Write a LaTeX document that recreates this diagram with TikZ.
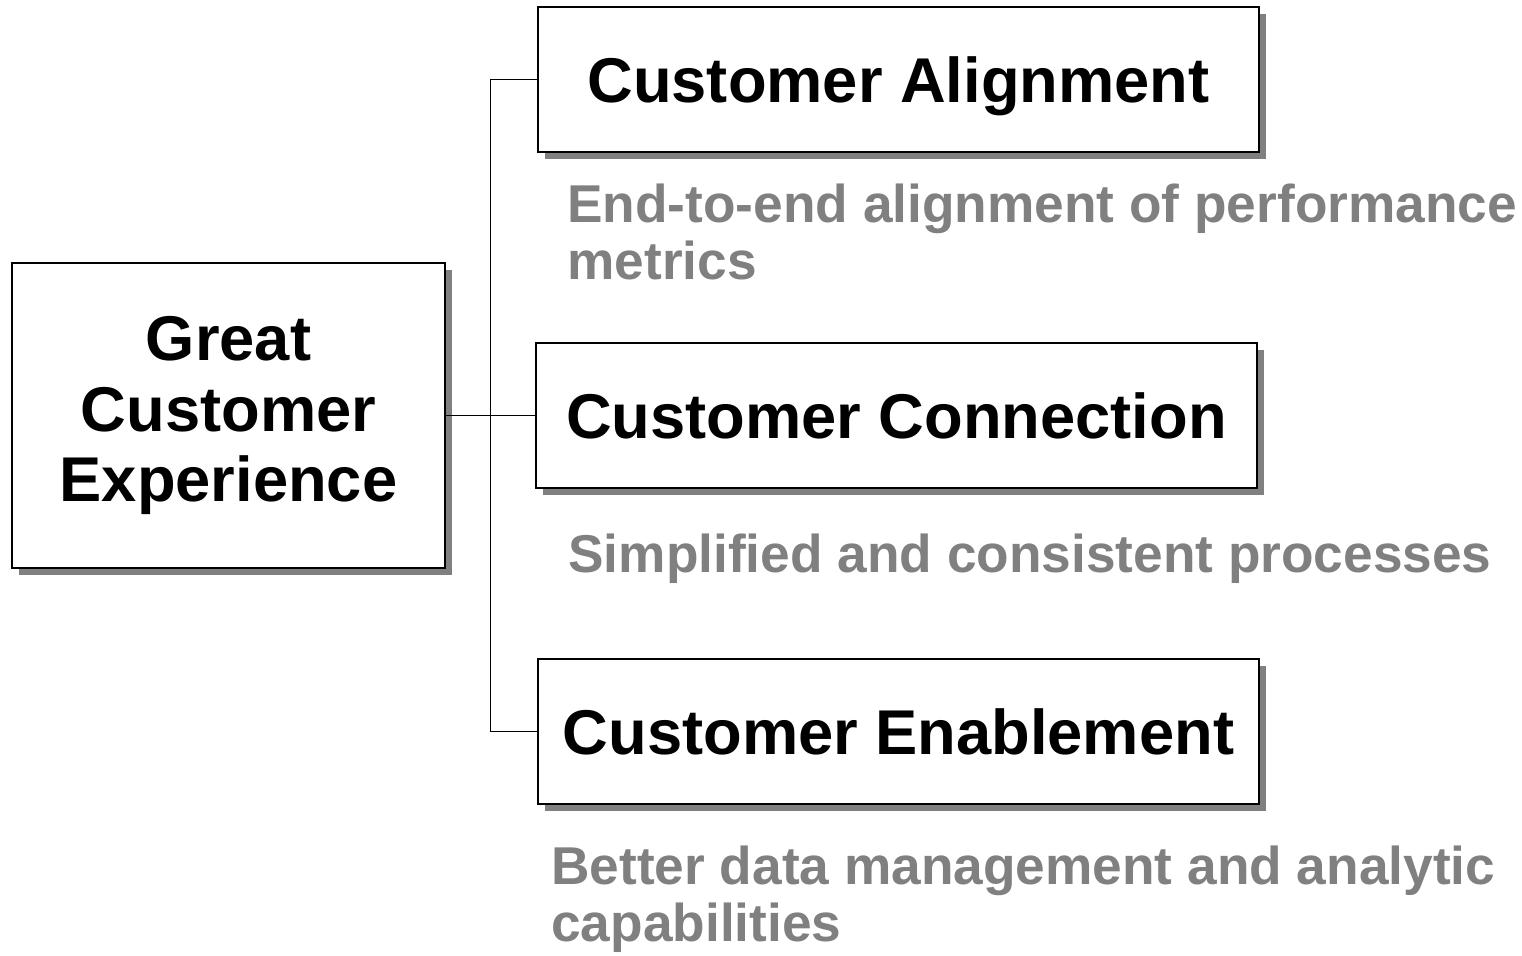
\documentclass[tikz,border=0pt]{standalone}
\usepackage{fontspec}
\setmainfont{Liberation Sans}
\usetikzlibrary{positioning, calc}
\usetikzlibrary{shadows}
\definecolor{notegray}{HTML}{808080}
\tikzset{
  font={\fontsize{36pt}{40pt}\selectfont\bfseries}}
\tikzset{
  pillar/.style={draw=black, line width=1.1pt, fill=white,
    drop shadow={shadow xshift=0.14cm, shadow yshift=-0.14cm, fill=notegray, opacity=1}},
  branch/.style={pillar, minimum width=14.42cm, minimum height=2.9cm, text depth=0pt},
  note/.style={text=notegray, font={\fontsize{30.3pt}{32pt}\selectfont\bfseries},
    align=left, inner sep=0pt, anchor=base west},
  link/.style={line width=1.1pt}
}

\begin{document}
\begin{tikzpicture}
     \useasboundingbox (0,0) rectangle (30.44,-19.10);

     \node[pillar, minimum width=8.66cm, minimum height=6.1cm, align=center] (goal) at (4.57,-8.31) {Great\\Customer\\Experience};
     \node[branch] (align) at (17.97,-1.59) {Customer Alignment};
     \node[branch] (connect) at (17.93,-8.31) {Customer Connection};
     \node[branch] (enable) at (17.97,-14.63) {Customer Enablement};

     %% notes under the boxes (base = last line)
     \node[note] (alignnote) at (11.34,-5.58) {End-to-end alignment of performance\\metrics};
     \node[note] (connectnote) at (11.36,-11.44) {Simplified and consistent processes};
     \node[note] (enablenote) at (11.02,-18.82) {Better data management and analytic\\capabilities};

     %% connectors
     \coordinate (trunk) at ($(goal.east)!0.5!(connect.west)$);
     \draw[link] (align.west) -| (trunk) |- (enable.west);
     \draw[link] (goal.east) -- (connect.west);
\end{tikzpicture}
\end{document}
